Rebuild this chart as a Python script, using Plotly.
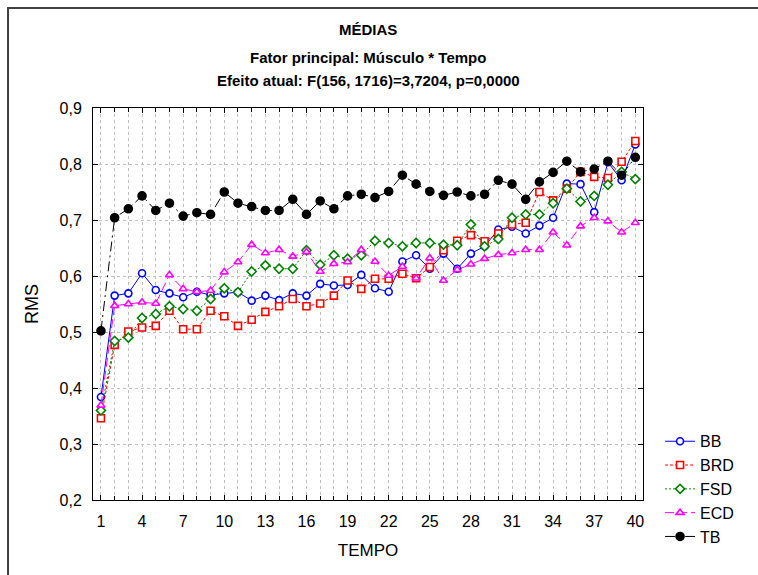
import plotly.graph_objects as go

# Time points (TEMPO) and mean RMS per muscle
tempo = list(range(1, 41))

bb = [0.384, 0.565, 0.569, 0.605, 0.575, 0.569, 0.562, 0.572, 0.566, 0.569,
      0.571, 0.556, 0.565, 0.557, 0.569, 0.565, 0.586, 0.583, 0.584, 0.602,
      0.578, 0.572, 0.626, 0.637, 0.613, 0.640, 0.613, 0.640, 0.653, 0.683,
      0.688, 0.676, 0.690, 0.704, 0.765, 0.764, 0.714, 0.803, 0.771, 0.835]

brd = [0.346, 0.477, 0.501, 0.508, 0.511, 0.538, 0.505, 0.505, 0.538, 0.528,
       0.511, 0.522, 0.536, 0.546, 0.559, 0.546, 0.551, 0.565, 0.592, 0.577,
       0.595, 0.595, 0.604, 0.596, 0.616, 0.646, 0.663, 0.673, 0.662, 0.676,
       0.692, 0.695, 0.750, 0.735, 0.756, 0.786, 0.777, 0.775, 0.804, 0.841]

fsd = [0.360, 0.484, 0.490, 0.525, 0.532, 0.546, 0.541, 0.538, 0.559, 0.578,
       0.571, 0.608, 0.619, 0.613, 0.613, 0.646, 0.620, 0.637, 0.631, 0.637,
       0.663, 0.659, 0.653, 0.659, 0.659, 0.656, 0.655, 0.692, 0.653, 0.666,
       0.704, 0.710, 0.710, 0.730, 0.756, 0.733, 0.743, 0.763, 0.786, 0.773]

ecd = [0.369, 0.547, 0.550, 0.553, 0.551, 0.602, 0.577, 0.572, 0.574, 0.607,
       0.625, 0.656, 0.641, 0.647, 0.635, 0.643, 0.608, 0.622, 0.625, 0.647,
       0.626, 0.601, 0.617, 0.596, 0.632, 0.592, 0.611, 0.621, 0.631, 0.638,
       0.641, 0.647, 0.647, 0.678, 0.655, 0.689, 0.704, 0.698, 0.678, 0.695]

tb = [0.502, 0.704, 0.720, 0.743, 0.717, 0.730, 0.707, 0.713, 0.710, 0.750,
      0.730, 0.724, 0.717, 0.717, 0.737, 0.710, 0.734, 0.720, 0.743, 0.746,
      0.740, 0.751, 0.780, 0.764, 0.751, 0.744, 0.750, 0.743, 0.746, 0.771,
      0.764, 0.737, 0.768, 0.785, 0.805, 0.786, 0.791, 0.805, 0.780, 0.812]

x_ticks = [1, 4, 7, 10, 13, 16, 19, 22, 25, 28, 31, 34, 37, 40]

FONT = "Liberation Sans, Arial, sans-serif"

series = [
    ("BB", bb, "#0000FF", "circle", "solid", "white"),
    ("BRD", brd, "#FF0000", "square", "3px,2px", "white"),
    ("FSD", fsd, "#008000", "diamond", "2px,2px", "white"),
    ("ECD", ecd, "#FF00FF", "triangle-up", "9px,4px", "white"),
    ("TB", tb, "#000000", "circle", "10px,4px,2px,4px", "#000000"),
]

fig = go.Figure()
for name, vals, color, sym, dash, fill in series:
    fig.add_trace(go.Scatter(
        x=tempo, y=vals, name=name, mode="lines+markers",
        line=dict(color=color, width=1, dash=dash),
        marker=dict(symbol=sym, size=7 if name != "TB" else 8,
                    color=fill, line=dict(color=color, width=1.6)),
    ))

grid = "#C0C0C0"
fig.update_xaxes(
    range=[0.42, 40.56], tickmode="array", tickvals=x_ticks,
    ticks="inside", ticklen=5, tickcolor="black",
    showline=True, linecolor="black", linewidth=1, mirror="ticks",
    showgrid=True, gridcolor=grid, griddash="dot", gridwidth=1,
    minor=dict(dtick=1, tick0=1, ticks="inside", ticklen=4, tickcolor="black",
               showgrid=True, gridcolor=grid, griddash="dot", gridwidth=1),
    zeroline=False, ticklabelstandoff=7,
    tickfont=dict(family=FONT, size=16, color="black"),
    title=dict(text="TEMPO", font=dict(family=FONT, size=17, color="black"), standoff=14),
)
fig.update_yaxes(
    range=[0.2, 0.9], dtick=0.1, tick0=0.2, tickformat=".1f",
    ticks="inside", ticklen=5, tickcolor="black",
    showline=True, linecolor="black", linewidth=1, mirror="ticks",
    showgrid=True, gridcolor=grid, griddash="dot", gridwidth=1,
    zeroline=False, ticklabelstandoff=7,
    tickfont=dict(family=FONT, size=16, color="black"),
    title=dict(text="RMS", font=dict(family=FONT, size=18, color="black"), standoff=16),
)

# Title lines
titles = [
    ("<b>MÉDIAS</b>", 1.199),
    ("<b>Fator principal: Músculo * Tempo</b>", 1.128),
    ("<b>Efeito atual: F(156, 1716)=3,7204, p=0,0000</b>", 1.071),
]
for text, yy in titles:
    fig.add_annotation(text=text, x=0.5, y=yy, xref="paper", yref="paper",
                       showarrow=False, xanchor="center", yanchor="middle",
                       font=dict(family=FONT, size=15, color="black"))

# Outer frame
fig.add_shape(type="rect", xref="paper", yref="paper",
              x0=-0.1545, x1=1.24, y0=-0.24, y1=1.2551,
              line=dict(color="#404040", width=2), layer="above")

fig.update_layout(
    width=758, height=575,
    margin=dict(l=93, r=115, t=108, b=75),
    paper_bgcolor="white", plot_bgcolor="white",
    separators=",.",
    font=dict(family=FONT, size=16, color="black"),
    showlegend=True,
    legend=dict(x=1.031, y=0.193, xanchor="left", yanchor="top",
                bgcolor="rgba(0,0,0,0)", font=dict(family=FONT, size=16, color="black"),
                tracegroupgap=0),
)

fig.write_html("out.html")
